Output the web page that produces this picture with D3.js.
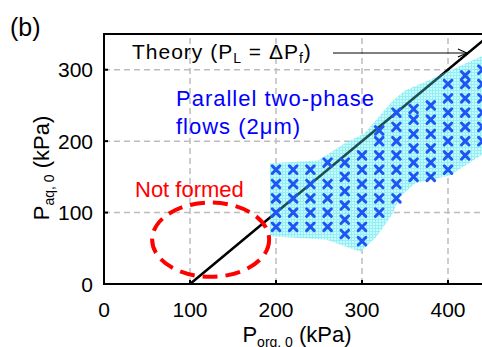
<!DOCTYPE html>
<html lang="en">
<head>
    <meta charset="UTF-8">
    <title>Parallel two-phase flows</title>
    <script src="https://cdnjs.cloudflare.com/ajax/libs/d3/7.8.5/d3.min.js"></script>
</head>
<style>
    body { margin: 0; background: #fff; }
    svg { font-family: 'Liberation Sans', Arial, sans-serif; display: block; }
</style>
<body>
<div id="svg"></div>
<script>

    // axis ticks
    const xTicks = [0, 100, 200, 300, 400];
    const yTicks = [0, 100, 200, 300];
    const gridX  = [100, 200, 300, 400];
    const gridY  = [100, 200, 300];

    // theory line P_L = dP_f  (P_aq = P_org - 100)
    const theoryX = [100, 450];
    const theoryY = [0, 350];

    // measured points (x) : one column per P_org value
    const crossCols = [200, 220, 240, 260, 280, 300, 320, 340, 360, 380, 400, 420, 440];
    const crossRows = [
        [80, 100, 120, 140, 160],
        [80, 100, 120, 140, 160],
        [80, 100, 120, 140, 160],
        [80, 100, 120, 140, 170],
        [70, 90, 110, 130, 150, 170],
        [60, 80, 100, 120, 140, 160, 180],
        [100, 120, 140, 160, 180, 200, 215],
        [120, 140, 160, 180, 200, 220, 240],
        [150, 170, 190, 210, 230, 245],
        [150, 170, 190, 210, 230, 250],
        [160, 180, 200, 220, 240, 260, 280],
        [180, 200, 220, 240, 260, 280, 292],
        [200, 220, 240, 260, 280, 300]
    ];

    // shaded region outline
    const regionX = [193, 249, 280, 303, 336, 350, 383, 399, 445, 445, 402, 362, 344, 336, 317, 298, 259, 193];
    const regionY = [169, 173, 197, 211, 257, 271, 288, 297, 322, 185, 152, 141, 122, 99, 66, 45, 62, 67];

    // "not formed" ellipse (centre, radii in kPa)
    const notFormed = { cx: 124, cy: 62, rx: 68, ry: 52 };

    const width = 482, height = 347;

    const x = d3.scaleLinear().domain([0, 450]).range([104, 491]);
    const y = d3.scaleLinear().domain([0, 350]).range([284, 34]);

    const svg = d3.select('#svg')
        .append('svg')
        .attr('width', width)
        .attr('height', height);

    const defs = svg.append('defs');

    // fine cyan grid texture
    const pat = defs.append('pattern')
        .attr('id', 'hatch')
        .attr('patternUnits', 'userSpaceOnUse')
        .attr('width', 3)
        .attr('height', 3);
    pat.append('rect').attr('width', 3).attr('height', 3).attr('fill', '#c0fafc');
    pat.append('path').attr('d', 'M0,0.5H3M0.5,0V3')
        .attr('stroke', '#7eecf3').attr('stroke-width', 1);

    const regionPts = regionX.map((v, i) => [x(v), y(regionY[i])]);
    const regionPath = d3.line().curve(d3.curveLinearClosed)(regionPts);

    defs.append('clipPath').attr('id', 'regionClip')
        .append('path').attr('d', regionPath);

    defs.append('marker')
        .attr('id', 'arrow')
        .attr('viewBox', '0 0 10 10')
        .attr('refX', 10).attr('refY', 5)
        .attr('markerWidth', 10).attr('markerHeight', 10)
        .attr('markerUnits', 'userSpaceOnUse')
        .attr('orient', 'auto')
        .append('path')
        .attr('d', 'M1,1L10,5L1,9')
        .attr('fill', 'none')
        .attr('stroke', '#000')
        .attr('stroke-width', 1.1);

    // grid lines
    svg.append('g').selectAll('line.gx')
        .data(gridX).join('line')
        .attr('x1', d => x(d)).attr('x2', d => x(d))
        .attr('y1', y(0)).attr('y2', y(350))
        .attr('stroke', '#bdbdbd').attr('stroke-width', 1.5)
        .attr('stroke-dasharray', '6,4');

    svg.append('g').selectAll('line.gy')
        .data(gridY).join('line')
        .attr('x1', x(0)).attr('x2', x(450))
        .attr('y1', d => y(d)).attr('y2', d => y(d))
        .attr('stroke', '#bdbdbd').attr('stroke-width', 1.5)
        .attr('stroke-dasharray', '6,4');

    // theory line
    const drawTheory = (g, colour) => g.append('line')
        .attr('x1', x(theoryX[0])).attr('y1', y(theoryY[0]))
        .attr('x2', x(theoryX[1])).attr('y2', y(theoryY[1]))
        .attr('stroke', colour).attr('stroke-width', 2.5);

    drawTheory(svg, '#000');

    // shaded region (semi transparent so the grid shows)
    svg.append('path')
        .attr('d', regionPath)
        .attr('fill', 'url(#hatch)')
        .attr('opacity', 0.85);

    // line seen through the shading
    drawTheory(svg.append('g').attr('clip-path', 'url(#regionClip)'), '#1e4f52');

    // crosses
    const pts = [];
    crossCols.forEach((c, i) => crossRows[i].forEach(v => pts.push([c, v])));

    const s = 3.8;
    svg.append('g').selectAll('path.cross')
        .data(pts).join('path')
        .attr('transform', d => `translate(${x(d[0])},${y(d[1])})`)
        .attr('d', `M${-s},${-s}L${s},${s}M${-s},${s}L${s},${-s}`)
        .attr('stroke', '#1f55f2')
        .attr('stroke-width', 3)
        .attr('stroke-linecap', 'round');

    // ellipse
    svg.append('ellipse')
        .attr('cx', x(notFormed.cx)).attr('cy', y(notFormed.cy))
        .attr('rx', x(notFormed.rx) - x(0)).attr('ry', y(0) - y(notFormed.ry))
        .attr('fill', 'none')
        .attr('stroke', '#ff0000')
        .attr('stroke-width', 4)
        .attr('stroke-dasharray', '15,8');

    // frame
    svg.append('path')
        .attr('d', `M${x(450)},${y(350)}H${x(0)}V${y(0)}H${x(450)}`)
        .attr('fill', 'none').attr('stroke', '#000').attr('stroke-width', 2);

    // inward ticks
    svg.append('g').selectAll('line.tx')
        .data(xTicks.slice(1)).join('line')
        .attr('x1', d => x(d)).attr('x2', d => x(d))
        .attr('y1', y(0)).attr('y2', y(0) - 4)
        .attr('stroke', '#000').attr('stroke-width', 2);
    svg.append('g').selectAll('line.ty')
        .data(yTicks.slice(1)).join('line')
        .attr('x1', x(0)).attr('x2', x(0) + 4)
        .attr('y1', d => y(d)).attr('y2', d => y(d))
        .attr('stroke', '#000').attr('stroke-width', 2);

    // tick labels
    svg.append('g').selectAll('text.lx')
        .data(xTicks).join('text')
        .attr('x', d => x(d)).attr('y', 317)
        .attr('text-anchor', 'middle')
        .attr('font-size', 21)
        .text(d => d);
    svg.append('g').selectAll('text.ly')
        .data(yTicks).join('text')
        .attr('x', 93).attr('y', d => y(d) + 7.5)
        .attr('text-anchor', 'end')
        .attr('font-size', 21)
        .text(d => d);

    // axis titles
    const xl = svg.append('text')
        .attr('x', 297).attr('y', 342)
        .attr('text-anchor', 'middle')
        .attr('font-size', 22);
    xl.append('tspan').text('P');
    xl.append('tspan').attr('font-size', 14).attr('dy', 5).text('org, 0');
    xl.append('tspan').attr('dy', -5).text(' (kPa)');

    const yl = svg.append('text')
        .attr('transform', 'translate(49,168) rotate(-90)')
        .attr('text-anchor', 'middle')
        .attr('font-size', 22);
    yl.append('tspan').text('P');
    yl.append('tspan').attr('font-size', 14).attr('dy', 5).text('aq, 0');
    yl.append('tspan').attr('dy', -5).text(' (kPa)');

    // panel label
    svg.append('text')
        .attr('x', 10).attr('y', 36)
        .attr('font-size', 25)
        .text('(b)');

    // theory annotation
    const th = svg.append('text')
        .attr('x', 132).attr('y', 59)
        .attr('font-size', 21)
        .attr('letter-spacing', 1);
    th.append('tspan').text('Theory (P');
    th.append('tspan').attr('font-size', 14).attr('dy', 4).text('L');
    th.append('tspan').attr('dy', -4).text(' = ΔP');
    th.append('tspan').attr('font-size', 14).attr('dy', 4).text('f');
    th.append('tspan').attr('dy', -4).text(')');

    svg.append('line')
        .attr('x1', 333).attr('y1', 53)
        .attr('x2', x(422)).attr('y2', 53)
        .attr('stroke', '#000').attr('stroke-width', 1)
        .attr('marker-end', 'url(#arrow)');

    // region labels
    svg.append('text')
        .attr('x', 176).attr('y', 106)
        .attr('font-size', 22).attr('fill', '#0000ff')
        .attr('letter-spacing', 1)
        .text('Parallel two-phase');
    svg.append('text')
        .attr('x', 176).attr('y', 134)
        .attr('font-size', 22).attr('fill', '#0000ff')
        .attr('letter-spacing', 1)
        .text('flows (2μm)');

    svg.append('text')
        .attr('x', 135).attr('y', 197)
        .attr('font-size', 22).attr('fill', '#ff0000')
        .text('Not formed');

</script>
</body>
</html>
